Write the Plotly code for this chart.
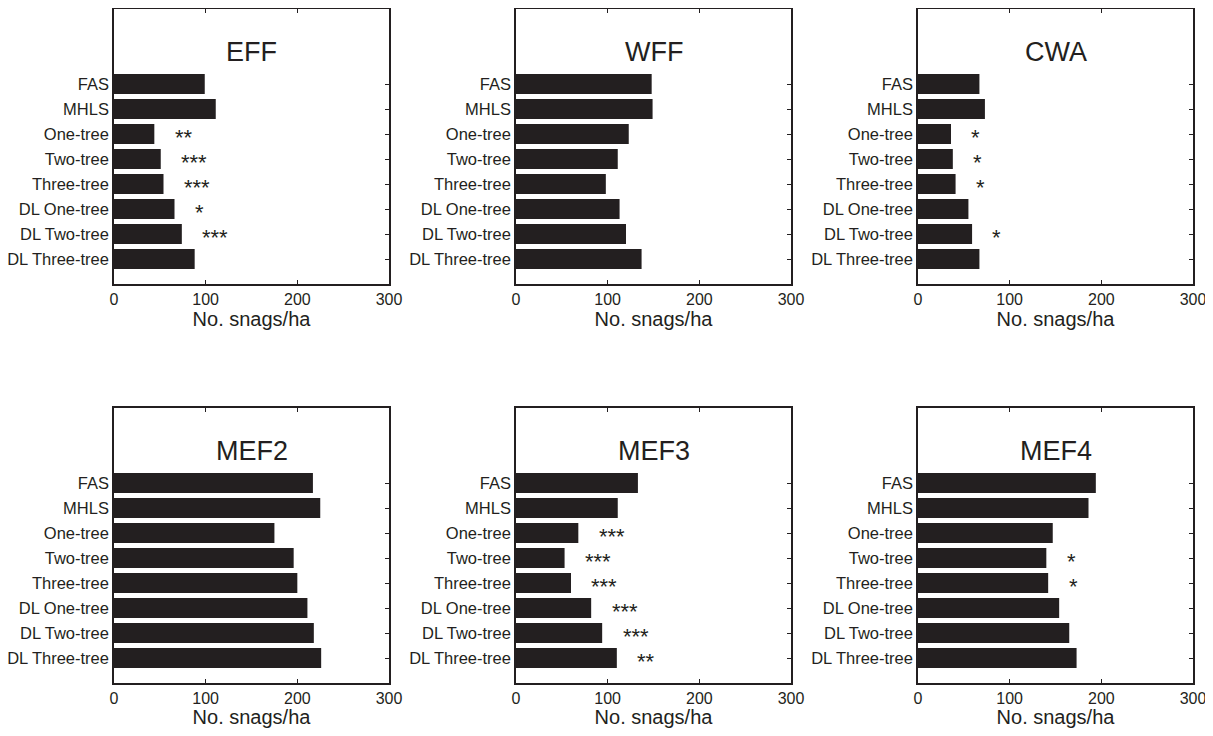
import plotly.graph_objects as go

categories = ["FAS", "MHLS", "One-tree", "Two-tree", "Three-tree",
              "DL One-tree", "DL Two-tree", "DL Three-tree"]

panel_names = ["EFF", "WFF", "CWA", "MEF2", "MEF3", "MEF4"]

eff = [99, 111, 44, 51, 54, 66, 74, 88]
wff = [148, 149, 123, 111, 98, 113, 120, 137]
cwa = [67, 73, 36, 38, 41, 55, 59, 67]
mef2 = [217, 225, 175, 196, 200, 211, 218, 226]
mef3 = [133, 111, 68, 53, 60, 82, 94, 110]
mef4 = [194, 186, 147, 140, 142, 154, 165, 173]

eff_sig = ["", "", "**", "***", "***", "*", "***", ""]
wff_sig = ["", "", "", "", "", "", "", ""]
cwa_sig = ["", "", "*", "*", "*", "", "*", ""]
mef2_sig = ["", "", "", "", "", "", "", ""]
mef3_sig = ["", "", "***", "***", "***", "***", "***", "**"]
mef4_sig = ["", "", "", "*", "*", "", "", ""]

x_ticks = [0, 100, 200, 300]
x_title = "No. snags/ha"

values = [eff, wff, cwa, mef2, mef3, mef4]
sigs = [eff_sig, wff_sig, cwa_sig, mef2_sig, mef3_sig, mef4_sig]

# the page body has an 8px margin; size the figure so the page never scrolls
OFF = 8
W, H = 1213 - OFF, 736 - 2 * OFF
col_px = [(114, 389), (516, 791), (918, 1193)]
row_px = [(9, 284), (408, 683)]

ink = "#231f20"
font_family = "Liberation Sans, Arial, Helvetica, sans-serif"

fig = go.Figure()
annotations = []
for i, (name, vals, sg) in enumerate(zip(panel_names, values, sigs)):
    r, c = divmod(i, 3)
    n = i + 1
    xa = "xaxis" if n == 1 else f"xaxis{n}"
    ya = "yaxis" if n == 1 else f"yaxis{n}"
    xr = "x" if n == 1 else f"x{n}"
    yr = "y" if n == 1 else f"y{n}"
    fig.add_trace(go.Bar(
        x=vals, y=categories, orientation="h", width=0.8,
        marker=dict(color=ink, line=dict(width=0)),
        xaxis=xr, yaxis=yr, showlegend=False, hoverinfo="x+y"))
    x0, x1 = (p - OFF for p in col_px[c])
    y0, y1 = (p - OFF for p in row_px[r])
    fig.layout[xa] = dict(
        domain=[max(0, x0 / W), min(1, x1 / W)], anchor=yr, range=[0, 300],
        automargin=False,
        tickvals=x_ticks, ticks="inside", ticklen=4, tickwidth=1,
        tickcolor=ink, showline=True, linecolor=ink, linewidth=1.5,
        mirror="ticks", showgrid=False, zeroline=False,
        tickfont=dict(size=16, color=ink, family=font_family),
        title=dict(text=x_title, standoff=4,
                   font=dict(size=20, color=ink, family=font_family)))
    fig.layout[ya] = dict(
        domain=[max(0, 1 - y1 / H), min(1, 1 - y0 / H)], anchor=xr,
        automargin=False,
        type="category", categoryorder="array", categoryarray=categories,
        range=[8, -3], ticks="inside", ticklen=4, tickwidth=1,
        tickcolor=ink, showline=True, linecolor=ink, linewidth=1.5,
        mirror="ticks", showgrid=False, zeroline=False,
        tickfont=dict(size=16.5, color=ink, family=font_family))
    annotations.append(dict(
        text=name, xref=f"{xr} domain", yref=f"{yr} domain",
        x=0.5, y=0.845, xanchor="center", yanchor="middle",
        showarrow=False, font=dict(size=27, color=ink, family=font_family)))
    for cat, v, s in zip(categories, vals, sg):
        if s:
            annotations.append(dict(
                text=s, xref=xr, yref=yr, x=v + 20, y=cat,
                xanchor="left", yanchor="middle", yshift=-3,
                showarrow=False,
                font=dict(size=22, color=ink, family=font_family)))

fig.update_layout(
    width=W, height=H, margin=dict(l=0, r=0, t=0, b=0, autoexpand=False),
    paper_bgcolor="white", plot_bgcolor="white",
    annotations=annotations, bargap=0.2)

fig.write_html("out.html")
